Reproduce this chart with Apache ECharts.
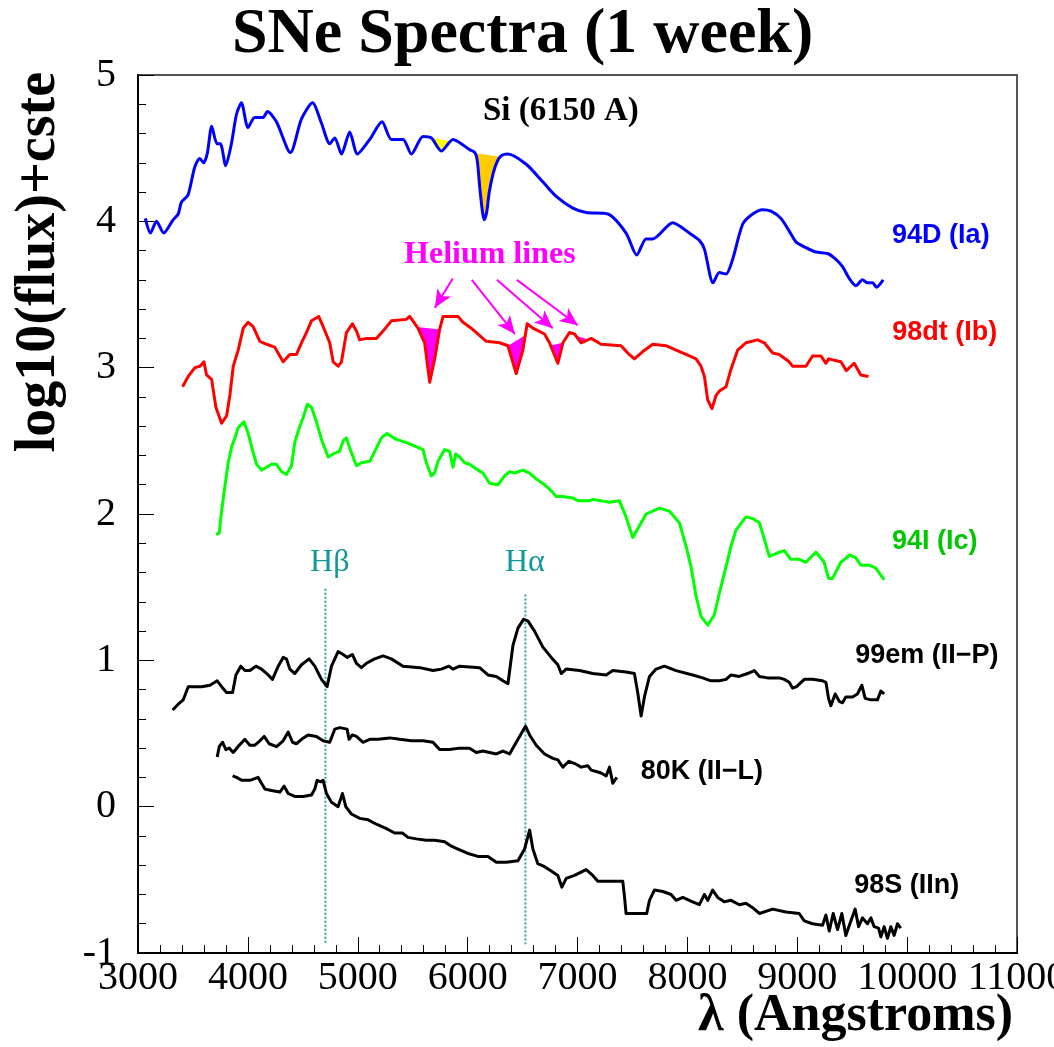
<!DOCTYPE html>
<html><head><meta charset="utf-8">
<script src="https://cdn.jsdelivr.net/npm/echarts@6/dist/echarts.min.js"></script>
<style>html,body{margin:0;padding:0;background:#fff}#chart{width:1054px;height:1047px}</style>
</head><body><div id="chart"></div>
<script>
// ---------- data (wavelength in Angstrom, log10(flux)+cste) ----------
const xRange = [3000, 11000];
const yRange = [-1, 5];

const sn94D = [[3067,4.02],[3113,3.92],[3168,4.00],[3234,3.92],[3319,4.01],[3366,4.05],[3395,4.13],[3455,4.18],[3516,4.37],[3562,4.43],[3598,4.40],[3632,4.47],[3671,4.65],[3719,4.53],[3750,4.53],[3798,4.38],[3850,4.53],[3896,4.73],[3941,4.81],[4001,4.64],[4062,4.71],[4138,4.71],[4178,4.75],[4260,4.68],[4387,4.47],[4488,4.70],[4588,4.81],[4670,4.67],[4745,4.53],[4791,4.57],[4852,4.46],[4927,4.61],[4997,4.46],[5109,4.56],[5221,4.68],[5306,4.56],[5412,4.56],[5488,4.46],[5594,4.58],[5670,4.57],[5761,4.48],[5867,4.56],[6018,4.49],[6066,4.47],[6087,4.42],[6112,4.22],[6136,4.06],[6151,4.01],[6173,4.06],[6197,4.20],[6233,4.33],[6270,4.41],[6309,4.45],[6366,4.46],[6533,4.39],[6684,4.27],[6806,4.17],[6958,4.09],[7079,4.06],[7276,4.05],[7442,3.92],[7539,3.77],[7624,3.88],[7685,3.88],[7867,3.99],[8018,3.92],[8109,3.87],[8155,3.81],[8234,3.58],[8291,3.65],[8352,3.64],[8412,3.74],[8503,3.98],[8594,4.05],[8685,4.08],[8761,4.07],[8852,4.02],[8930,3.93],[8988,3.86],[9079,3.82],[9170,3.79],[9276,3.78],[9352,3.74],[9412,3.69],[9473,3.61],[9533,3.56],[9594,3.60],[9639,3.58],[9685,3.58],[9721,3.55],[9782,3.60]];

const sn98dt = [[3406,2.87],[3457,2.94],[3518,3.00],[3564,3.01],[3600,3.04],[3624,2.95],[3670,2.92],[3709,2.73],[3761,2.62],[3806,2.67],[3836,2.81],[3867,3.01],[3912,3.12],[3958,3.27],[4003,3.31],[4048,3.28],[4079,3.23],[4109,3.18],[4170,3.16],[4245,3.14],[4321,3.04],[4382,3.09],[4442,3.09],[4488,3.17],[4533,3.24],[4579,3.32],[4645,3.35],[4685,3.28],[4745,3.17],[4776,3.04],[4821,3.01],[4852,3.04],[4897,3.24],[4951,3.30],[4988,3.25],[5018,3.19],[5079,3.20],[5170,3.20],[5230,3.25],[5306,3.32],[5442,3.33],[5473,3.35],[5548,3.27],[5609,3.17],[5655,2.90],[5700,3.06],[5745,3.26],[5776,3.35],[5912,3.35],[5958,3.31],[6033,3.27],[6079,3.24],[6170,3.18],[6291,3.17],[6367,3.15],[6442,2.96],[6503,3.12],[6542,3.30],[6594,3.27],[6700,3.23],[6745,3.17],[6821,3.03],[6867,3.17],[6927,3.24],[6973,3.23],[7033,3.17],[7094,3.19],[7124,3.20],[7215,3.16],[7397,3.15],[7457,3.10],[7518,3.06],[7594,3.11],[7685,3.16],[7806,3.15],[7897,3.12],[7988,3.09],[8079,3.06],[8124,3.01],[8155,2.94],[8185,2.78],[8224,2.72],[8261,2.81],[8291,2.84],[8352,2.87],[8397,2.99],[8458,3.12],[8533,3.17],[8639,3.19],[8700,3.17],[8776,3.10],[8836,3.09],[8927,3.04],[8957,3.01],[9079,3.01],[9139,3.08],[9215,3.08],[9261,3.03],[9285,3.06],[9397,3.04],[9447,2.98],[9518,3.03],[9579,2.95],[9648,2.94]];

const sn94I = [[3709,1.86],[3739,1.87],[3761,2.02],[3791,2.19],[3821,2.35],[3852,2.46],[3882,2.52],[3912,2.59],[3964,2.63],[4003,2.55],[4048,2.42],[4079,2.34],[4124,2.30],[4170,2.32],[4215,2.34],[4260,2.34],[4306,2.29],[4351,2.27],[4397,2.33],[4427,2.49],[4473,2.60],[4503,2.66],[4542,2.75],[4579,2.73],[4624,2.63],[4670,2.51],[4730,2.39],[4776,2.41],[4836,2.43],[4867,2.50],[4897,2.52],[4927,2.45],[4988,2.33],[5033,2.35],[5109,2.36],[5170,2.45],[5215,2.52],[5266,2.55],[5306,2.53],[5352,2.51],[5473,2.48],[5594,2.44],[5624,2.35],[5670,2.26],[5700,2.28],[5730,2.36],[5791,2.44],[5836,2.43],[5867,2.32],[5891,2.41],[5927,2.39],[5973,2.35],[6018,2.34],[6094,2.30],[6139,2.28],[6200,2.21],[6276,2.20],[6336,2.26],[6382,2.29],[6427,2.28],[6503,2.30],[6564,2.28],[6624,2.24],[6700,2.20],[6760,2.16],[6806,2.12],[6867,2.12],[6958,2.11],[7003,2.09],[7109,2.09],[7139,2.10],[7291,2.08],[7382,2.09],[7442,1.98],[7503,1.84],[7564,1.92],[7624,2.00],[7745,2.04],[7836,2.02],[7927,1.94],[7988,1.78],[8033,1.64],[8079,1.44],[8124,1.30],[8185,1.24],[8245,1.31],[8291,1.46],[8352,1.64],[8397,1.78],[8442,1.89],[8533,1.98],[8594,1.97],[8655,1.94],[8700,1.83],[8745,1.71],[8806,1.73],[8882,1.75],[8942,1.69],[9018,1.69],[9079,1.67],[9170,1.74],[9245,1.67],[9285,1.56],[9321,1.56],[9397,1.67],[9477,1.72],[9533,1.70],[9579,1.65],[9655,1.65],[9715,1.63],[9791,1.55]];

const sn99em = [[3315,0.66],[3366,0.70],[3412,0.73],[3457,0.82],[3518,0.82],[3579,0.82],[3655,0.83],[3721,0.86],[3761,0.82],[3806,0.78],[3861,0.78],[3891,0.90],[3936,0.96],[3973,0.93],[4018,0.93],[4073,0.96],[4124,0.94],[4185,0.90],[4224,0.87],[4276,0.96],[4321,1.02],[4351,1.01],[4382,0.94],[4427,0.91],[4488,0.97],[4557,1.01],[4609,0.96],[4670,0.87],[4721,0.82],[4761,0.96],[4821,1.06],[4867,1.04],[4903,1.02],[4951,1.04],[4988,0.98],[5033,0.95],[5079,0.98],[5154,1.01],[5230,1.03],[5306,1.01],[5412,0.96],[5564,0.95],[5685,0.93],[5761,0.94],[5830,0.96],[5867,0.94],[5927,0.96],[6109,0.95],[6185,0.90],[6261,0.89],[6321,0.86],[6367,0.84],[6412,1.10],[6458,1.22],[6509,1.28],[6548,1.27],[6609,1.20],[6685,1.09],[6761,1.02],[6821,0.97],[6852,0.91],[6897,0.94],[7018,0.93],[7139,0.91],[7261,0.90],[7321,0.93],[7442,0.92],[7518,0.91],[7548,0.78],[7579,0.62],[7609,0.75],[7655,0.89],[7715,0.94],[7791,0.96],[7897,0.93],[8048,0.90],[8139,0.88],[8215,0.86],[8291,0.86],[8352,0.87],[8397,0.90],[8473,0.89],[8548,0.91],[8609,0.93],[8655,0.89],[8730,0.88],[8836,0.88],[8882,0.87],[8927,0.85],[8957,0.81],[8994,0.82],[9064,0.87],[9139,0.87],[9230,0.86],[9261,0.85],[9285,0.74],[9306,0.69],[9345,0.77],[9382,0.72],[9412,0.71],[9442,0.75],[9503,0.75],[9548,0.77],[9588,0.83],[9618,0.74],[9670,0.73],[9730,0.73],[9761,0.79],[9791,0.77]];

const sn80K = [[3721,0.34],[3739,0.41],[3770,0.44],[3800,0.39],[3830,0.40],[3867,0.37],[3921,0.42],[3973,0.46],[4018,0.42],[4064,0.42],[4109,0.45],[4148,0.48],[4194,0.43],[4261,0.41],[4321,0.45],[4367,0.51],[4406,0.44],[4442,0.43],[4488,0.46],[4548,0.49],[4624,0.48],[4685,0.45],[4745,0.44],[4791,0.53],[4836,0.54],[4903,0.53],[4921,0.46],[4951,0.49],[4988,0.48],[5018,0.46],[5048,0.44],[5109,0.46],[5185,0.46],[5291,0.47],[5382,0.46],[5488,0.45],[5594,0.45],[5685,0.44],[5745,0.39],[5836,0.39],[5927,0.40],[6018,0.40],[6079,0.37],[6139,0.38],[6200,0.37],[6261,0.36],[6321,0.38],[6382,0.36],[6427,0.42],[6473,0.48],[6527,0.55],[6564,0.49],[6624,0.42],[6700,0.36],[6776,0.33],[6821,0.32],[6867,0.27],[6921,0.31],[6988,0.29],[7033,0.27],[7094,0.28],[7124,0.25],[7170,0.24],[7215,0.23],[7261,0.21],[7291,0.27],[7321,0.16],[7358,0.20]];

const sn98S = [[3861,0.21],[3897,0.20],[3943,0.18],[4018,0.18],[4094,0.20],[4124,0.16],[4155,0.12],[4215,0.11],[4291,0.10],[4330,0.14],[4367,0.09],[4427,0.07],[4503,0.07],[4579,0.08],[4609,0.12],[4630,0.18],[4664,0.17],[4685,0.18],[4715,0.09],[4761,0.03],[4821,0.00],[4861,0.09],[4891,0.00],[4942,-0.05],[5018,-0.08],[5094,-0.09],[5170,-0.12],[5261,-0.15],[5336,-0.18],[5406,-0.18],[5457,-0.21],[5533,-0.22],[5624,-0.23],[5700,-0.23],[5791,-0.24],[5852,-0.27],[5912,-0.29],[6003,-0.32],[6094,-0.34],[6185,-0.34],[6261,-0.38],[6352,-0.38],[6458,-0.37],[6518,-0.29],[6564,-0.16],[6594,-0.29],[6639,-0.39],[6700,-0.41],[6761,-0.44],[6821,-0.47],[6858,-0.55],[6897,-0.49],[6973,-0.47],[7079,-0.43],[7139,-0.47],[7185,-0.51],[7412,-0.51],[7427,-0.61],[7442,-0.73],[7630,-0.73],[7655,-0.64],[7700,-0.57],[7776,-0.58],[7852,-0.60],[7897,-0.64],[7958,-0.62],[8048,-0.65],[8109,-0.67],[8155,-0.60],[8185,-0.64],[8230,-0.57],[8276,-0.62],[8336,-0.65],[8397,-0.64],[8473,-0.67],[8533,-0.66],[8594,-0.69],[8655,-0.73],[8776,-0.70],[8897,-0.72],[9018,-0.73],[9064,-0.78],[9139,-0.80],[9230,-0.81],[9261,-0.74],[9291,-0.85],[9327,-0.73],[9367,-0.84],[9406,-0.73],[9442,-0.88],[9479,-0.80],[9527,-0.70],[9558,-0.82],[9594,-0.76],[9639,-0.80],[9670,-0.76],[9700,-0.82],[9740,-0.83],[9761,-0.89],[9791,-0.82],[9821,-0.90],[9852,-0.82],[9882,-0.88],[9912,-0.80],[9942,-0.83]];

// absorption features filled between spectrum and continuum chord [from, to]
const siFeatures = [[3665,3740],[5650,5850],[6068,6300]];
const heFeatures = [[5540,5745],[6367,6525],[6755,6867],[6985,7100]];

// hydrogen marker lines
const hBetaLine = [[4706,1.49],[4706,-0.94]];
const hAlphaLine = [[6526,1.45],[6526,-0.94]];

// helium arrows [fromX, fromY, toX, toY]
const heArrows = [[5865,3.61,5701,3.41],[6038,3.60,6430,3.23],[6266,3.60,6775,3.27],[6448,3.60,7003,3.29]];

// text annotations
const labelTexts = ['94D (Ia)','98dt (Ib)','94I (Ic)','99em (II\u2212P)','80K (II\u2212L)','98S (IIn)','Si (6150 A)','Helium lines','H\u03b2','H\u03b1'];
const labelAt = [[10307,3.90],[10343,3.24],[10252,1.81],[10179,1.03],[8131,0.24],[9997,-0.54],[6848,4.75],[6202,3.77],[4745,1.67],[6521,1.67]];

// axis titles
const xTitle = '\u03bb (Angstroms)';
const yTitle = 'log10(flux)+cste';

// ---------- styles ----------
const labelStyles = [
  {font:'bold 27px "Liberation Sans"', fill:'#0000ff'},
  {font:'bold 27px "Liberation Sans"', fill:'#ff0000'},
  {font:'bold 27px "Liberation Sans"', fill:'#00c800'},
  {font:'bold 27px "Liberation Sans"', fill:'#000000'},
  {font:'bold 27px "Liberation Sans"', fill:'#000000'},
  {font:'bold 27px "Liberation Sans"', fill:'#000000'},
  {font:'bold 33px "Liberation Serif"', fill:'#000000'},
  {font:'bold 32px "Liberation Serif"', fill:'#ff00ff'},
  {font:'32px "Liberation Serif"', fill:'#119999'},
  {font:'32px "Liberation Serif"', fill:'#119999'}
];
const siColors = ['#ffff00','#ffff00','#ffcc00'];

function interp(arr, x) {
  for (let i = 0; i < arr.length - 1; i++) {
    const a = arr[i], b = arr[i + 1];
    if (x >= a[0] && x <= b[0]) return a[1] + (b[1] - a[1]) * (x - a[0]) / (b[0] - a[0]);
  }
  return arr[arr.length - 1][1];
}
function featurePolygon(arr, a, b) {
  const pts = [[a, interp(arr, a)]];
  arr.forEach(p => { if (p[0] > a && p[0] < b) pts.push(p); });
  pts.push([b, interp(arr, b)]);
  return pts;
}
function fillSeries(src, feats, colorFn) {
  return {
    type: 'custom', coordinateSystem: 'cartesian2d', z: 1, silent: true,
    data: feats.map(f => [f[0], interp(src, f[0])]),
    renderItem: function (params, api) {
      const f = feats[params.dataIndex];
      const pts = featurePolygon(src, f[0], f[1]).map(p => api.coord(p));
      return {type: 'polygon', shape: {points: pts}, style: {fill: colorFn(params.dataIndex), stroke: null}};
    }
  };
}
function spec(name, data, color, smooth) {
  return {name, type: 'line', data, symbol: 'none', showSymbol: false, z: 3, smooth: smooth || false,
    lineStyle: {color, width: 3, join: 'round'}, itemStyle: {color}};
}

const serif = '"Liberation Serif", "Times New Roman", serif';
const chart = echarts.init(document.getElementById('chart'));
chart.setOption({
  animation: false,
  backgroundColor: '#ffffff',
  title: {
    text: 'SNe Spectra (1 week)', left: 232, top: 3, padding: 0,
    textStyle: {fontFamily: serif, fontWeight: 'bold', fontSize: 64, color: '#000'}
  },
  graphic: [
    {type: 'text', x: 1013, y: 1017, z: 10,
      style: {text: xTitle, font: 'bold 52px ' + serif, fill: '#000', align: 'right', verticalAlign: 'middle'}}
  ],
  grid: {left: 138, right: 37, top: 75, bottom: 94, show: true, borderColor: '#555', borderWidth: 2,
    containLabel: false, outerBoundsMode: 'none'},
  xAxis: {
    type: 'value', min: xRange[0], max: xRange[1], interval: 1000,
    axisLine: {onZero: false, lineStyle: {color: '#000', width: 2}},
    axisTick: {inside: true, length: 16, lineStyle: {color: '#000', width: 1}},
    minorTick: {show: true, splitNumber: 5, length: 8, lineStyle: {color: '#000', width: 1}},
    axisLabel: {fontFamily: serif, fontSize: 40, color: '#000', margin: 5, showMinLabel: true, showMaxLabel: true,
      formatter: v => String(v)},
    splitLine: {show: false}
  },
  yAxis: {
    type: 'value', min: yRange[0], max: yRange[1], interval: 1,
    name: yTitle, nameLocation: 'end', nameGap: 3, nameRotate: 90,
    nameTextStyle: {fontFamily: serif, fontWeight: 'bold', fontSize: 56, color: '#000', align: 'right', verticalAlign: 'bottom', padding: [0, 0, 70, 0]},
    axisLine: {onZero: false, lineStyle: {color: '#000', width: 2}},
    axisTick: {inside: true, length: 16, lineStyle: {color: '#000', width: 1}},
    minorTick: {show: true, splitNumber: 5, length: 8, lineStyle: {color: '#000', width: 1}},
    axisLabel: {fontFamily: serif, fontSize: 40, color: '#000', margin: 22, formatter: v => String(v)},
    splitLine: {show: false}
  },
  series: [
    fillSeries(sn94D, siFeatures, i => siColors[i]),
    fillSeries(sn98dt, heFeatures, () => '#ff00ff'),
    spec('94D (Ia)', sn94D, '#0000ff', 0.25),
    spec('98dt (Ib)', sn98dt, '#ff0000'),
    spec('94I (Ic)', sn94I, '#00ff00'),
    spec('99em (II-P)', sn99em, '#000000'),
    spec('80K (II-L)', sn80K, '#000000'),
    spec('98S (IIn)', sn98S, '#000000'),
    {name: 'Hbeta', type: 'line', data: hBetaLine, symbol: 'none', z: 2,
      lineStyle: {color: '#20a8a8', width: 2, type: [2, 2]}},
    {name: 'Halpha', type: 'line', data: hAlphaLine, symbol: 'none', z: 2,
      lineStyle: {color: '#20a8a8', width: 2, type: [2, 2]},
      markLine: {
        silent: true, symbol: ['none', 'arrow'], symbolSize: [12, 18],
        lineStyle: {color: '#ff00ff', width: 2, type: 'solid'}, label: {show: false},
        data: heArrows.map(a => [{coord: [a[0], a[1]]}, {coord: [a[2], a[3]]}])
      }},
    {type: 'custom', coordinateSystem: 'cartesian2d', z: 5, silent: true,
      data: labelAt,
      renderItem: function (params, api) {
        const p = api.coord([api.value(0), api.value(1)]);
        const s = labelStyles[params.dataIndex];
        return {type: 'text', x: p[0], y: p[1],
          style: {text: labelTexts[params.dataIndex], font: s.font, fill: s.fill, align: 'center', verticalAlign: 'middle'}};
      }}
  ]
});
</script></body></html>
